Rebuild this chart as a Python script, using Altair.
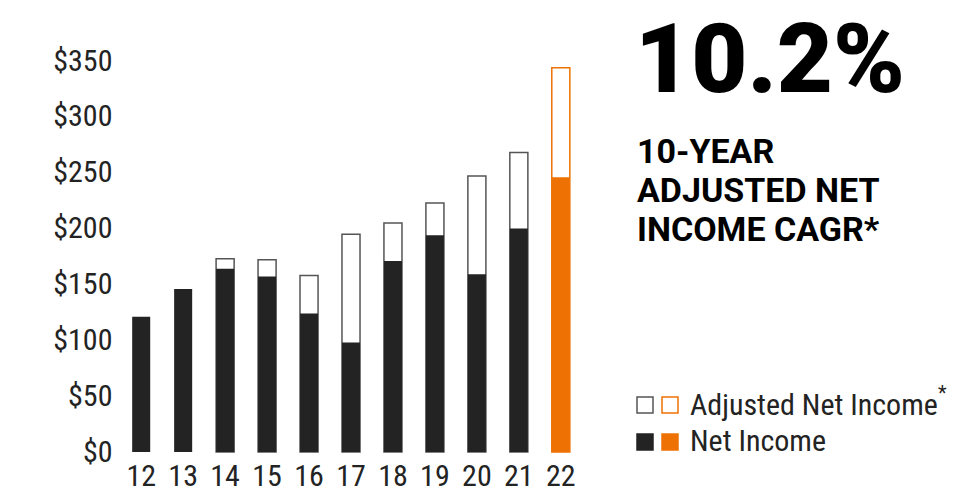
import altair as alt
import pandas as pd

years = ["12", "13", "14", "15", "16", "17", "18", "19", "20", "21", "22"]
net_income = [121, 146, 164, 157, 124, 98, 171, 194, 159, 200, 246]
adjusted_net_income = [None, None, 173, 172, 158, 195, 205, 223, 247, 268, 344]
y_ticks = [0, 50, 100, 150, 200, 250, 300, 350]
headline = "10.2%"
subhead = ["10-YEAR", "ADJUSTED NET", "INCOME CAGR*"]
legend_labels = ["Adjusted Net Income", "Net Income"]

BLACK = "#232323"
ORANGE = "#EE7203"
OUTLINE = "#555555"
COND_FONT = "Roboto Condensed, Liberation Sans Narrow, Roboto"

df = pd.DataFrame({"year": years, "net": net_income, "adjusted": adjusted_net_income})

xenc = alt.X("year:N", sort=years,
             scale=alt.Scale(paddingInner=0.57, paddingOuter=0.29),
             axis=alt.Axis(title=None, labelAngle=0, ticks=False, domain=False,
                           labelFontSize=30, labelPadding=9, labelColor=BLACK,
                           labelFont=COND_FONT))
yscale = alt.Scale(domain=[0, 350], nice=False)

adj = alt.Chart(df).transform_filter("isValid(datum.adjusted)").mark_bar(
    fill="white", strokeWidth=1.5
).encode(
    x=xenc,
    y=alt.Y("adjusted:Q", scale=yscale,
            axis=alt.Axis(values=y_ticks, title=None, grid=False, domain=False, ticks=False,
                          labelExpr="'$' + datum.value", labelFontSize=30, labelPadding=8,
                          labelColor=BLACK, labelFont=COND_FONT)),
    stroke=alt.condition(alt.datum.year == "22", alt.value(ORANGE), alt.value(OUTLINE)),
)

net = alt.Chart(df).mark_bar().encode(
    x=alt.X("year:N", sort=years),
    y=alt.Y("net:Q", scale=yscale),
    color=alt.condition(alt.datum.year == "22", alt.value(ORANGE), alt.value(BLACK)),
)

one = pd.DataFrame({"a": [0]})

head = alt.Chart(one).mark_text(
    text=headline, font="Roboto", fontWeight=900, fontSize=97, align="left",
    baseline="alphabetic", color="#000000"
).encode(x=alt.value(515), y=alt.value(31))

sub = alt.Chart(one).mark_text(
    text=subhead, font="Roboto", fontWeight="bold", fontSize=34, align="left",
    baseline="alphabetic", color="#000000", lineHeight=39
).encode(x=alt.value(517), y=alt.value(102))

def sq(x, y, fill, stroke):
    return alt.Chart(one).mark_square(size=256, fill=fill, stroke=stroke, strokeWidth=1.5,
                                      opacity=1, fillOpacity=1).encode(
        x=alt.value(x), y=alt.value(y))

legend = [
    sq(525, 344, "white", OUTLINE),
    sq(550, 344, "white", ORANGE),
    sq(525, 381, BLACK, BLACK),
    sq(550, 381, ORANGE, ORANGE),
]

lt1 = alt.Chart(one).mark_text(
    text=legend_labels[0], font=COND_FONT, fontSize=30, align="left",
    baseline="alphabetic", color=BLACK
).encode(x=alt.value(570), y=alt.value(354))
lt2 = alt.Chart(one).mark_text(
    text=legend_labels[1], font=COND_FONT, fontSize=30, align="left",
    baseline="alphabetic", color=BLACK
).encode(x=alt.value(570), y=alt.value(390))
star = alt.Chart(one).mark_text(
    text="*", font="Roboto", fontSize=20, align="left",
    baseline="alphabetic", color=BLACK
).encode(x=alt.value(818), y=alt.value(339))

chart = alt.layer(adj, net, head, sub, *legend, lt1, lt2, star).properties(
    width=462, height=391,
    padding={"left": 112, "top": 53, "right": 374, "bottom": 40},
    autosize="none",
).configure_view(stroke=None)

chart.save("out.html", embed_options={"renderer": "svg", "actions": False})
